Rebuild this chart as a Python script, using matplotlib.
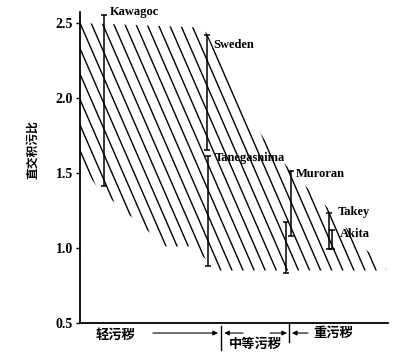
import numpy as np
import matplotlib
matplotlib.use("Agg")
import matplotlib.pyplot as plt
from matplotlib.patches import Polygon

SERIF = ["Liberation Serif", "DejaVu Serif"]
CJK = ["Noto Sans CJK SC", "DejaVu Sans"]

# hatched band: upper and lower boundary (x in arbitrary pollution units 0-10)
upper_x = [0.0, 3.90, 4.12, 5.29, 6.17, 7.14, 8.28, 9.09, 9.94]
upper_y = [2.50, 2.47, 2.43, 1.93, 1.67, 1.45, 1.22, 1.03, 0.86]
lower_x = [9.94, 4.48, 3.64, 2.79, 0.58, 0.0]
lower_y = [0.85, 0.85, 1.01, 1.01, 1.40, 1.57]

# measured ranges per site
sites = ["Kawagoc", "Sweden", "Tanegasnima", "Muroran", "", "Takey", "Akita"]
site_x = [0.78, 4.12, 4.16, 6.85, 6.69, 8.08, 8.18]
site_lo = [1.41, 1.65, 0.88, 1.08, 0.83, 0.99, 0.99]
site_hi = [2.55, 2.42, 1.61, 1.51, 1.17, 1.23, 1.12]
label_pos = [(0.98, 2.57), (4.32, 2.35), (4.39, 1.60), (7.01, 1.49), None, (8.38, 1.24), (8.44, 1.09)]

# zone split along the x axis
zones = ["轻污秽", "中等污秽", "重污秽"]
zone_text_x = [1.14, 5.68, 8.21]
zone_text_y = [0.42, 0.36, 0.433]
zone_bounds = [4.58, 6.79]

fig = plt.figure(figsize=(4.0, 3.56), dpi=100)
ax = fig.add_axes([0.2, 0.0927, 0.77, 0.8722])
ax.set_xlim(0, 10)
ax.set_ylim(0.5, 2.57)

band = Polygon(list(zip(upper_x + lower_x, upper_y + lower_y)), closed=True,
               facecolor="none", edgecolor="none")
ax.add_patch(band)

# steep diagonal hatch lines clipped to the band
slope = -0.472
step = 0.36
xs = np.array([-1.0, 12.0])
for k in range(-10, 40):
    x0 = k * step
    ln, = ax.plot(xs, 2.5 + slope * (xs - x0), color="black", lw=1.0)
    ln.set_clip_path(band)

for name, x, lo, hi, pos in zip(sites, site_x, site_lo, site_hi, label_pos):
    ax.errorbar([x], [(lo + hi) / 2], yerr=[[(hi - lo) / 2], [(hi - lo) / 2]],
                fmt="none", ecolor="black", elinewidth=1.1, capsize=2.5, capthick=1.1)
    if pos:
        ax.text(pos[0], pos[1], name, family=SERIF, fontweight="bold",
                fontsize=9, va="center", ha="left")

for s in ["top", "right"]:
    ax.spines[s].set_visible(False)
for s in ["left", "bottom"]:
    ax.spines[s].set_linewidth(1.3)
ax.set_xticks([])
ax.set_yticks([0.5, 1.0, 1.5, 2.0, 2.5])
ax.set_yticklabels(["0.5", "1.0", "1.5", "2.0", "2.5"], family=SERIF,
                   fontweight="bold", fontsize=10)
ax.tick_params(axis="y", direction="out", length=3, width=1, pad=2)

# zone annotations under the axis
for t, x, y in zip(zones, zone_text_x, zone_text_y):
    ax.text(x, y, t, family=CJK, fontweight="bold", fontsize=9.5,
            ha="center", va="center", clip_on=False)
ya = 0.433
arr = dict(arrowstyle="-|>", lw=0.8, color="black", mutation_scale=7,
           shrinkA=0, shrinkB=0)
ax.annotate("", xy=(zone_bounds[0] - 0.1, ya), xytext=(2.37, ya), arrowprops=arr,
            annotation_clip=False)
ax.annotate("", xy=(zone_bounds[0] + 0.1, ya), xytext=(5.29, ya), arrowprops=arr,
            annotation_clip=False)
ax.annotate("", xy=(zone_bounds[1] - 0.07, ya), xytext=(6.17, ya), arrowprops=arr,
            annotation_clip=False)
ax.annotate("", xy=(zone_bounds[1] + 0.09, ya), xytext=(7.40, ya), arrowprops=arr,
            annotation_clip=False)
ax.plot([zone_bounds[0]] * 2, [0.48, 0.32], color="black", lw=1.0, clip_on=False)
ax.plot([zone_bounds[1]] * 2, [0.50, 0.373], color="black", lw=1.0, clip_on=False)

fig.text(0.0825, 0.579, "直交积污比", family=CJK, fontweight="bold", fontsize=8.5,
         rotation=90, ha="center", va="center")

fig.savefig("out.png", dpi=100, facecolor="white")
